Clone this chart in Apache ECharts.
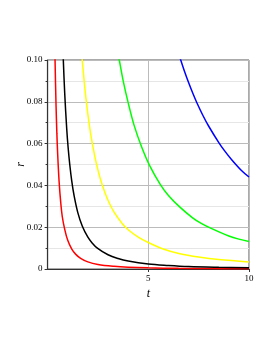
<!DOCTYPE html>
<html><head><meta charset="utf-8">
<script src="https://cdn.jsdelivr.net/npm/echarts@6/dist/echarts.min.js"></script>
<style>html,body{margin:0;padding:0;background:#fff}#c{width:273px;height:353px}</style>
</head><body><div id="c"></div>
<script>
// values: [t, r]
var redCurve = [[0.33,0.125],[0.37,0.1],[0.42,0.078],[0.46,0.065],[0.5,0.055],[0.57,0.042],[0.65,0.032],[0.73,0.025],[0.85,0.019],[1.0,0.0137],[1.2,0.0095],[1.4,0.007],[1.64,0.0051],[2.0,0.0034],[2.5,0.0022],[3.3,0.0013],[4.0,0.00086],[5,0.00055],[6.5,0.00032],[8,0.00021],[10,0.00014]];
var blackCurve = [[0.74,0.111],[0.78,0.1],[0.85,0.084],[0.95,0.067],[1.02,0.058],[1.1,0.050],[1.2,0.042],[1.31,0.0354],[1.5,0.027],[1.72,0.0206],[2.0,0.0152],[2.2,0.0126],[2.47,0.010],[3.0,0.0068],[3.5,0.005],[4.0,0.0038],[5,0.0024],[6,0.0017],[7,0.0012],[8.5,0.00084],[10,0.0006]];
var yellowCurve = [[1.65,0.109],[1.72,0.1],[1.9,0.082],[2.1,0.067],[2.25,0.0585],[2.42,0.0505],[2.62,0.0431],[2.85,0.0365],[3.05,0.0318],[3.3,0.0272],[3.7,0.0218],[4.0,0.0188],[4.5,0.0153],[5.0,0.0127],[5.7,0.0097],[6.57,0.0073],[7.5,0.0057],[8.5,0.0045],[10,0.0034]];
var greenCurve = [[3.45,0.106],[3.56,0.1],[3.78,0.0888],[4.0,0.0796],[4.3,0.0686],[4.67,0.0584],[5.08,0.0492],[5.6,0.0404],[6.0,0.0352],[6.57,0.0296],[7.2,0.0245],[7.65,0.0217],[8.15,0.0193],[9.0,0.0158],[9.5,0.0143],[10,0.0132]];
var blueCurve = [[6.5,0.1034],[6.61,0.1],[6.8,0.0945],[7.0,0.0892],[7.2,0.0843],[7.4,0.0798],[7.7,0.0737],[8.0,0.0683],[8.5,0.0605],[8.8,0.0564],[9.14,0.0523],[9.6,0.0474],[10,0.0440]];
var xTickLabels = ['5','10'];
var yTickLabels = ['0','0.02','0.04','0.06','0.08','0.10'];

var FONT = 'Liberation Serif';
function mk(name, data, color){
  return {name:name,type:'line',data:data,smooth:0.35,showSymbol:false,clip:true,
    lineStyle:{color:color,width:1.5},itemStyle:{color:color}};
}
var chart = echarts.init(document.getElementById('c'),null,{renderer:'canvas'});
chart.setOption({
  animation:false,
  backgroundColor:'#fff',
  grid:{left:47.6,right:24,top:60,bottom:84,show:true,borderColor:'#555',borderWidth:1,backgroundColor:'transparent'},
  xAxis:{type:'value',min:0,max:10,interval:5,
    name:'t',nameLocation:'middle',nameGap:16,
    nameTextStyle:{fontFamily:FONT,fontStyle:'italic',fontSize:12,color:'#000'},
    axisLine:{show:true,lineStyle:{color:'#333',width:1.2}},
    axisTick:{show:true,length:3,lineStyle:{color:'#333'}},
    axisLabel:{showMinLabel:false,margin:5,fontFamily:FONT,fontSize:9,color:'#000',
      formatter:function(v){var i=Math.round(v/5)-1;return i>=0?xTickLabels[i]:'';}},
    splitLine:{show:true,lineStyle:{color:'#bbb',width:1}}},
  yAxis:{type:'value',min:0,max:0.1,interval:0.02,
    name:'r',nameLocation:'middle',nameGap:27,nameRotate:90,nameMoveOverlap:false,
    nameTextStyle:{fontFamily:FONT,fontStyle:'italic',fontSize:12,color:'#000',verticalAlign:'middle'},
    axisLine:{show:true,lineStyle:{color:'#333',width:1.2}},
    axisTick:{show:true,length:3,lineStyle:{color:'#333'}},
    minorTick:{show:true,splitNumber:2,length:2,lineStyle:{color:'#333'}},
    axisLabel:{margin:5,fontFamily:FONT,fontSize:9,color:'#000',
      formatter:function(v){return yTickLabels[Math.round(v/0.02)];}},
    splitLine:{show:true,lineStyle:{color:'#bbb',width:1}},
    minorSplitLine:{show:true,lineStyle:{color:'#e6e6e6',width:1}}},
  series:[mk('red',redCurve,'#ff0000'),mk('black',blackCurve,'#000000'),mk('yellow',yellowCurve,'#ffff00'),
          mk('green',greenCurve,'#00ff00'),mk('blue',blueCurve,'#0000ff')]
});
</script></body></html>
